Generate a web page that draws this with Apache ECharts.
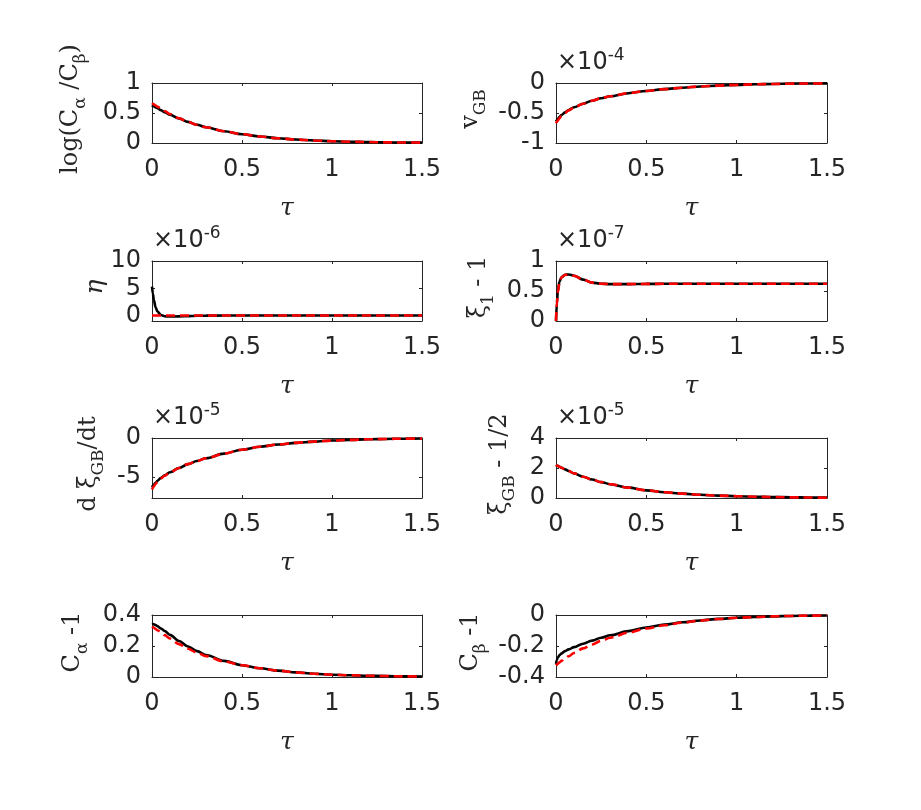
<!DOCTYPE html>
<html>
<head>
<meta charset="utf-8">
<script src="https://cdn.jsdelivr.net/npm/echarts@6/dist/echarts.min.js"></script>
<style>
  html, body { margin: 0; padding: 0; background: #fff; }
  #container { width: 921px; height: 810px; }
</style>
</head>
<body>
<div id="container"></div>
<script>
var dom = document.getElementById('container');
var myChart = echarts.init(dom, null, { renderer: 'canvas' });

// time samples (tau) shared by all panels
const tau = [0, 0.005, 0.01, 0.02, 0.03, 0.05, 0.07, 0.1, 0.15, 0.2, 0.25, 0.3, 0.4, 0.5, 0.6, 0.7, 0.8, 0.9, 1.0, 1.1, 1.2, 1.3, 1.4, 1.5];

// values are the mantissas shown on each axis (see exponents below)
const logRatioSim = [0.63, 0.621, 0.612, 0.594, 0.578, 0.545, 0.515, 0.472, 0.41, 0.352, 0.303, 0.262, 0.195, 0.146, 0.108, 0.08, 0.058, 0.042, 0.03, 0.022, 0.016, 0.011, 0.008, 0.006];
const logRatioFit = [0.665, 0.655, 0.645, 0.625, 0.606, 0.568, 0.533, 0.482, 0.413, 0.352, 0.303, 0.262, 0.195, 0.146, 0.108, 0.08, 0.058, 0.042, 0.03, 0.022, 0.016, 0.011, 0.008, 0.006];

const vgbSim = [-0.64, -0.62, -0.6, -0.565, -0.535, -0.49, -0.45, -0.405, -0.345, -0.295, -0.255, -0.222, -0.17, -0.133, -0.102, -0.078, -0.058, -0.043, -0.031, -0.022, -0.016, -0.011, -0.008, -0.006];
const vgbFit = [-0.67, -0.648, -0.625, -0.585, -0.55, -0.5, -0.457, -0.41, -0.345, -0.295, -0.255, -0.222, -0.17, -0.133, -0.102, -0.078, -0.058, -0.043, -0.031, -0.022, -0.016, -0.011, -0.008, -0.006];

const etaSim = [5.3, 4.0, 2.9, 1.5, 0.75, 0.1, -0.12, -0.18, -0.15, -0.1, -0.05, -0.02, 0, 0, 0, 0, 0, 0, 0, 0, 0, 0, 0, 0];
const etaFit = [0, 0, 0, 0, 0, 0, 0, 0, 0, 0, 0, 0, 0, 0, 0, 0, 0, 0, 0, 0, 0, 0, 0, 0];

const xi1Sim = [0, 0.3, 0.5, 0.66, 0.73, 0.77, 0.775, 0.755, 0.69, 0.64, 0.622, 0.615, 0.615, 0.618, 0.62, 0.62, 0.62, 0.62, 0.62, 0.62, 0.62, 0.62, 0.62, 0.62];
const xi1Fit = [0, 0.28, 0.48, 0.65, 0.725, 0.768, 0.773, 0.754, 0.69, 0.64, 0.622, 0.615, 0.615, 0.618, 0.62, 0.62, 0.62, 0.62, 0.62, 0.62, 0.62, 0.62, 0.62, 0.62];

const dxiSim = [-6.3, -6.15, -6.0, -5.75, -5.5, -5.1, -4.8, -4.4, -3.85, -3.35, -2.95, -2.6, -2.0, -1.5, -1.12, -0.84, -0.62, -0.46, -0.33, -0.24, -0.17, -0.12, -0.09, -0.07];
const dxiFit = [-6.6, -6.4, -6.2, -5.9, -5.62, -5.18, -4.85, -4.43, -3.85, -3.35, -2.95, -2.6, -2.0, -1.5, -1.12, -0.84, -0.62, -0.46, -0.33, -0.24, -0.17, -0.12, -0.09, -0.07];

const xiGbSim = [2.2, 2.17, 2.14, 2.08, 2.02, 1.91, 1.8, 1.64, 1.42, 1.23, 1.06, 0.92, 0.69, 0.51, 0.385, 0.29, 0.215, 0.16, 0.12, 0.088, 0.065, 0.048, 0.035, 0.026];
const xiGbFit = [2.2, 2.17, 2.14, 2.08, 2.02, 1.91, 1.8, 1.64, 1.42, 1.23, 1.06, 0.92, 0.69, 0.51, 0.385, 0.29, 0.215, 0.16, 0.12, 0.088, 0.065, 0.045, 0.03, 0.02];

const cAlphaSim = [0.34, 0.341, 0.34, 0.335, 0.328, 0.313, 0.297, 0.272, 0.232, 0.197, 0.167, 0.142, 0.104, 0.076, 0.056, 0.041, 0.03, 0.021, 0.015, 0.011, 0.008, 0.006, 0.004, 0.003];
const cAlphaFit = [0.325, 0.322, 0.318, 0.31, 0.302, 0.286, 0.27, 0.248, 0.212, 0.182, 0.157, 0.135, 0.1, 0.076, 0.056, 0.041, 0.03, 0.021, 0.015, 0.011, 0.008, 0.006, 0.004, 0.003];

const cBetaSim = [-0.315, -0.29, -0.275, -0.258, -0.248, -0.233, -0.222, -0.207, -0.185, -0.165, -0.147, -0.131, -0.104, -0.081, -0.062, -0.047, -0.035, -0.025, -0.018, -0.013, -0.009, -0.006, -0.004, -0.003];
const cBetaFit = [-0.325, -0.32, -0.315, -0.305, -0.296, -0.28, -0.266, -0.245, -0.215, -0.19, -0.167, -0.147, -0.114, -0.087, -0.066, -0.049, -0.036, -0.026, -0.018, -0.013, -0.009, -0.006, -0.004, -0.003];

const xTicks = [0, 0.5, 1, 1.5];

// panel setup: y range, y ticks, exponent, axis label (rich text)
const panels = [
  { sim: logRatioSim, fit: logRatioFit, ymin: 0, ymax: 1, yTicks: [0, 0.5, 1], exp: null,
    label: '{m|log(C}{s|α}{m| /C}{s|β}{m|)}' },
  { sim: vgbSim, fit: vgbFit, ymin: -1, ymax: 0, yTicks: [-1, -0.5, 0], exp: '-4',
    label: '{m|v}{s|GB}' },
  { sim: etaSim, fit: etaFit, ymin: -1, ymax: 10, yTicks: [0, 5, 10], exp: '-6',
    label: '{i|η}' },
  { sim: xi1Sim, fit: xi1Fit, ymin: 0, ymax: 1, yTicks: [0, 0.5, 1], exp: '-7',
    label: '{m|ξ}{s|1}{m| - 1}' },
  { sim: dxiSim, fit: dxiFit, ymin: -7.7, ymax: 0, yTicks: [-5, 0], exp: '-5',
    label: '{m|d ξ}{s|GB}{m|/dt}' },
  { sim: xiGbSim, fit: xiGbFit, ymin: 0, ymax: 4, yTicks: [0, 2, 4], exp: '-5',
    label: '{m|ξ}{s|GB}{m| - 1/2}' },
  { sim: cAlphaSim, fit: cAlphaFit, ymin: 0, ymax: 0.4, yTicks: [0, 0.2, 0.4], exp: null,
    label: '{m|C}{s|α}{m| -1}' },
  { sim: cBetaSim, fit: cBetaFit, ymin: -0.4, ymax: 0, yTicks: [-0.4, -0.2, 0], exp: null,
    label: '{m|C}{s|β}{m| -1}' }
];

const boxes = [
  { left: 152, top: 83, width: 270, height: 60, labelX: 71 },
  { left: 556, top: 83, width: 271, height: 60, labelX: 471 },
  { left: 152, top: 261, width: 270, height: 60, labelX: 95 },
  { left: 556, top: 261, width: 271, height: 60, labelX: 479 },
  { left: 152, top: 438, width: 270, height: 60, labelX: 89 },
  { left: 556, top: 438, width: 271, height: 60, labelX: 500 },
  { left: 152, top: 615, width: 270, height: 62, labelX: 73 },
  { left: 556, top: 615, width: 271, height: 62, labelX: 471 }
];

const ink = '#262626';
const tickFont = { fontFamily: 'DejaVu Sans', fontSize: 24, color: ink };
const fmt = v => String(parseFloat(v.toFixed(6)));
const pairs = arr => tau.map((t, k) => [t, arr[k]]);

const serifRich = {
  m: { fontFamily: 'DejaVu Serif', fontSize: 24, fill: ink, color: ink },
  i: { fontFamily: 'DejaVu Serif', fontStyle: 'italic', fontSize: 25, fill: ink, color: ink },
  s: { fontFamily: 'DejaVu Serif', fontSize: 17, fill: ink, color: ink, padding: [19, 0, 0, 0] }
};

let grids = [], xAxes = [], yAxes = [], series = [], graphics = [];

panels.forEach((p, i) => {
  const b = boxes[i];
  grids.push({ left: b.left, top: b.top, width: b.width, height: b.height, containLabel: false });
  const lineCfg = { show: true, onZero: false, lineStyle: { color: ink, width: 1 } };
  const tickCfgX = { show: true, inside: true, length: 3, lineStyle: { color: ink }, customValues: xTicks };
  const tickCfgY = { show: true, inside: true, length: 3, lineStyle: { color: ink }, customValues: p.yTicks };
  xAxes.push({
    type: 'value', gridIndex: i, min: 0, max: 1.5, position: 'bottom',
    axisLine: lineCfg, axisTick: tickCfgX, splitLine: { show: false },
    axisLabel: Object.assign({ margin: 15, customValues: xTicks, formatter: fmt }, tickFont),
    name: 'τ', nameLocation: 'middle', nameGap: 53,
    nameTextStyle: { fontFamily: 'DejaVu Serif', fontStyle: 'italic', fontSize: 25, color: ink }
  });
  xAxes.push({
    type: 'value', gridIndex: i, min: 0, max: 1.5, position: 'top',
    axisLine: lineCfg, axisTick: tickCfgX, splitLine: { show: false }, axisLabel: { show: false }
  });
  yAxes.push({
    type: 'value', gridIndex: i, min: p.ymin, max: p.ymax, position: 'left',
    axisLine: lineCfg, axisTick: tickCfgY, splitLine: { show: false },
    axisLabel: Object.assign({ margin: 11, customValues: p.yTicks, formatter: fmt }, tickFont)
  });
  yAxes.push({
    type: 'value', gridIndex: i, min: p.ymin, max: p.ymax, position: 'right',
    axisLine: lineCfg, axisTick: tickCfgY, splitLine: { show: false }, axisLabel: { show: false }
  });
  series.push({
    type: 'line', xAxisIndex: 2 * i, yAxisIndex: 2 * i, data: pairs(p.sim),
    showSymbol: false, smooth: 0.35, smoothMonotone: 'x', lineStyle: { color: '#000', width: 2.6 }, z: 2
  });
  series.push({
    type: 'line', xAxisIndex: 2 * i, yAxisIndex: 2 * i, data: pairs(p.fit),
    showSymbol: false, smooth: 0.35, smoothMonotone: 'x', lineStyle: { color: '#ff0000', width: 2.6, type: [9, 5] }, z: 3
  });
  graphics.push({
    type: 'text', x: b.labelX, y: b.top + b.height / 2 - 4, rotation: Math.PI / 2,
    style: { text: p.label, rich: serifRich, align: 'center', verticalAlign: 'middle' }
  });
  if (p.exp) {
    graphics.push({
      type: 'text', x: b.left + 1, y: b.top - 5,
      style: {
        text: '{a|×10}{b|' + p.exp + '}', align: 'left', verticalAlign: 'bottom',
        rich: {
          a: { fontFamily: 'DejaVu Sans', fontSize: 24, fill: ink },
          b: { fontFamily: 'DejaVu Sans', fontSize: 17, fill: ink, padding: [0, 0, 14, 0] }
        }
      }
    });
  }
});

var option = {
  backgroundColor: '#ffffff',
  animation: false,
  grid: grids,
  xAxis: xAxes,
  yAxis: yAxes,
  series: series,
  graphic: graphics
};

myChart.setOption(option);
window.addEventListener('resize', myChart.resize);
</script>
</body>
</html>
